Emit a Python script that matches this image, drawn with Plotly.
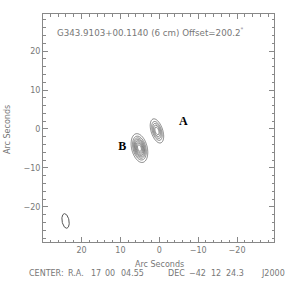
import numpy as np
import plotly.graph_objects as go

# ---- data ----
src_names = ["A", "B"]
src_x = [0.6, 5.1]          # arcsec offset (RA)
src_y = [-0.5, -4.9]        # arcsec offset (DEC)
src_peak = [6.0, 9.0]
src_sig_maj = [1.7, 1.8]
src_sig_min = [0.78, 0.95]
src_pa = [18.0, 14.0]       # deg, N through E
contour_levels = [1, 2, 3, 4, 5, 6, 7, 8]

label_text = ["A", "B"]
label_x = [-6.2, 9.5]
label_y = [1.8, -4.6]

beam_x, beam_y = 24.1, -23.6
beam_maj, beam_min, beam_pa = 3.8, 1.8, 10.0

title_text = 'G343.9103+00.1140 (6 cm) Offset=200.2<sup>"</sup>'
center_parts = ["CENTER:", "R.A.", "17", "00", "04.55", "DEC", "\u221242", "12", "24.3"]
center_last = "J2000"

# ---- field ----
gx = np.arange(-30, 30.01, 0.2)
gy = np.arange(-30, 30.01, 0.2)
X, Y = np.meshgrid(gx, gy)
Z = np.zeros_like(X)
for x0, y0, p, sa, sb, pa in zip(src_x, src_y, src_peak, src_sig_maj, src_sig_min, src_pa):
    t = np.radians(pa)
    dx, dy = X - x0, Y - y0
    u = dx * np.sin(t) + dy * np.cos(t)
    v = dx * np.cos(t) - dy * np.sin(t)
    Z += p * np.exp(-(u**2 / (2 * sa**2) + v**2 / (2 * sb**2)))

W, H = 288, 288
L, R, T, B = 43, 14, 14, 46
pw, ph = W - L - R, H - T - B

def px(xp):
    return (xp - L) / pw

def py(yp):
    return (H - B - yp) / ph

fig = go.Figure()
fig.add_trace(go.Contour(
    x=gx, y=gy, z=Z,
    contours=dict(start=contour_levels[0], end=contour_levels[-1], size=1, coloring="lines"),
    colorscale=[[0, "#666"], [1, "#666"]],
    line=dict(width=0.8), showscale=False, hoverinfo="skip"))

th = np.linspace(0, 2 * np.pi, 100)
bt = np.radians(beam_pa)
bu = beam_maj / 2 * np.cos(th)
bv = beam_min / 2 * np.sin(th)
fig.add_trace(go.Scatter(
    x=beam_x + bu * np.sin(bt) + bv * np.cos(bt),
    y=beam_y + bu * np.cos(bt) - bv * np.sin(bt),
    mode="lines", line=dict(color="#555", width=1), hoverinfo="skip", showlegend=False))

fig.add_trace(go.Scatter(
    x=label_x, y=label_y, text=label_text, mode="text",
    textfont=dict(family="Liberation Serif", size=12, color="black", weight="bold"),
    showlegend=False, hoverinfo="skip"))

ax_common = dict(showline=True, linecolor="#888", linewidth=1, mirror="allticks",
                 ticks="inside", ticklen=5, tickcolor="#888", showgrid=False, zeroline=False,
                 tickmode="linear", tick0=0, dtick=10,
                 tickfont=dict(family="DejaVu Sans", size=8, color="#777"),
                 minor=dict(ticks="inside", ticklen=2.5, dtick=2, tick0=0, tickcolor="#888", showgrid=False))

fig.update_layout(
    width=W, height=H, margin=dict(l=L, r=R, t=T, b=B),
    paper_bgcolor="white", plot_bgcolor="white", showlegend=False,
    xaxis=dict(range=[29.9, -29.5], **ax_common),
    yaxis=dict(range=[-29, 29.5], **ax_common),
)

ann_font = dict(family="DejaVu Sans", size=8, color="#777")
fig.add_annotation(text=title_text, x=px(55), y=py(32), xref="paper", yref="paper",
                   xanchor="left", yanchor="middle", showarrow=False,
                   font=dict(family="DejaVu Sans", size=8.7, color="#777"))
fig.add_annotation(text="Arc Seconds", x=px(159), y=py(264), xref="paper", yref="paper",
                   xanchor="center", yanchor="middle", showarrow=False, font=ann_font)
fig.add_annotation(text="Arc Seconds", x=px(7), y=py(130), xref="paper", yref="paper",
                   xanchor="center", yanchor="middle", showarrow=False, textangle=-90, font=ann_font)
center_x = [27, 66, 89, 103, 119, 166, 187, 209, 224]
for t_, xx in zip(center_parts, center_x):
    fig.add_annotation(text=t_, x=px(xx), y=py(273), xref="paper", yref="paper",
                       xanchor="left", yanchor="middle", showarrow=False, font=ann_font)
fig.add_annotation(text=center_last, x=px(287), y=py(273), xref="paper", yref="paper",
                   xanchor="right", yanchor="middle", showarrow=False, font=ann_font)

fig.write_html("out.html")
